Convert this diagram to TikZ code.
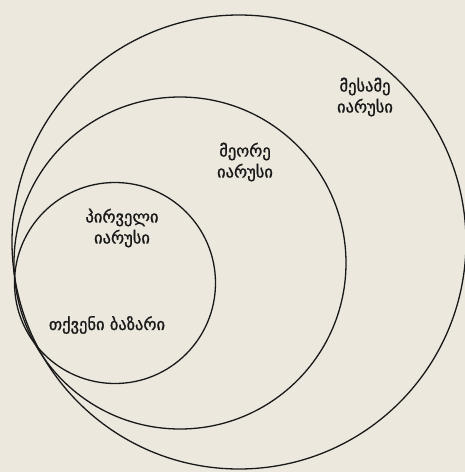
\documentclass[tikz,border=0pt]{standalone}
\usepackage{fontspec}
\newfontfamily\geofont[FakeBold=1.2]{DejaVu Sans}
\definecolor{paper}{RGB}{236,232,222}
\definecolor{ink}{RGB}{25,25,25}
\begin{document}
\begin{tikzpicture}[x=1pt,y=-1pt,
  ring/.style={draw=ink,line width=1.3pt},
  lbl/.style={font=\geofont\fontsize{16.5}{21}\selectfont,text=ink,align=center,inner sep=0pt}]
\fill[paper] (0,0) rectangle (465,472);
\useasboundingbox (0,0) rectangle (465,472);
\draw[ring] (239,242) circle (227);
\draw[ring] (180,263) circle (166);
\draw[ring] (115,283) circle (100.5);
\node[lbl] (third) at (365,97) {მესამე\\იარუსი};
\node[lbl] (second) at (245,162) {მეორე\\იარუსი};
\node[lbl] (first) at (122,228) {პირველი\\იარუსი};
\node[lbl] (market) at (107,325) {თქვენი ბაზარი};
\end{tikzpicture}
\end{document}
